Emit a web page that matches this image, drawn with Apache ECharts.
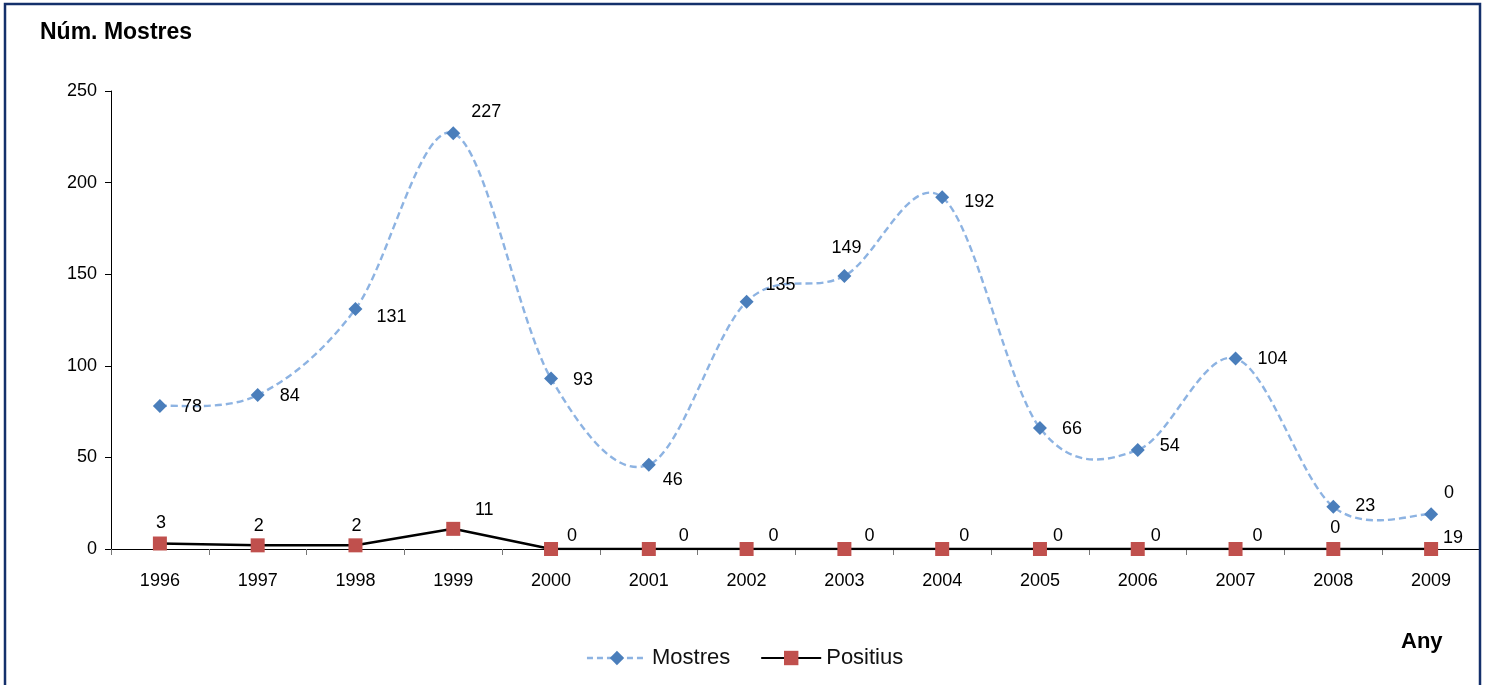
<!DOCTYPE html>
<html>
<head>
<meta charset="utf-8">
<script src="https://cdn.jsdelivr.net/npm/echarts@6/dist/echarts.min.js"></script>
<style>
html,body{margin:0;padding:0;background:#fff;}
#chart{width:1489px;height:685px;}
</style>
</head>
<body>
<div id="chart"></div>
<script>
const years = ['1996','1997','1998','1999','2000','2001','2002','2003','2004','2005','2006','2007','2008','2009'];
const mostres = [78, 84, 131, 227, 93, 46, 135, 149, 192, 66, 54, 104, 23, 19];
const positius = [3, 2, 2, 11, 0, 0, 0, 0, 0, 0, 0, 0, 0, 0];
// label texts as printed in the original figure
const mostresLabelText = ['78','84','131','227','93','46','135','149','192','66','54','104','23','0'];
const positiusLabelText = ['3','2','2','11','0','0','0','0','0','0','0','0','0','19'];
const yTicks = [0, 50, 100, 150, 200, 250];

// label offsets (style only)
const mostresOffsets = [[32,1],[32,1],[36,8],[33,-21],[32,1],[24,15],[34,-17],[2,-28],[37,5],[32,1],[32,-4],[37,1],[32,-1],[18,-21]];
const positiusOffsets = [[1,-20],[1,-19],[1,-19],[31,-19],[21,-13],[35,-13],[27,-13],[25,-13],[22,-13],[18,-13],[18,-13],[22,-13],[2,-21],[22,-11]];

const FONT = '"Liberation Sans", Arial, sans-serif';
const MOSTRES_LINE = {color:'#8db3e2', width:2.4, dash:[7,4]};

// Excel-style smoothed line (Catmull-Rom Bezier through the data points, via axis scales)
function renderSmooth(params, api) {
  if (params.dataIndex !== 0) return null;
  const pts = mostres.map((v, i) => api.coord([i, v]));
  const n = pts.length;
  let d = 'M' + pts[0][0] + ' ' + pts[0][1];
  for (let i = 0; i < n - 1; i++) {
    const p0 = pts[Math.max(i - 1, 0)], p1 = pts[i], p2 = pts[i + 1], p3 = pts[Math.min(i + 2, n - 1)];
    const c1x = p1[0] + (p2[0] - p0[0]) / 6, c1y = p1[1] + (p2[1] - p0[1]) / 6;
    const c2x = p2[0] - (p3[0] - p1[0]) / 6, c2y = p2[1] - (p3[1] - p1[1]) / 6;
    d += ' C' + c1x + ' ' + c1y + ' ' + c2x + ' ' + c2y + ' ' + p2[0] + ' ' + p2[1];
  }
  return {
    type: 'path',
    shape: {pathData: d},
    style: {fill: 'none', stroke: MOSTRES_LINE.color, lineWidth: MOSTRES_LINE.width, lineDash: MOSTRES_LINE.dash}
  };
}

const chart = echarts.init(document.getElementById('chart'), null, {renderer:'canvas'});
const option = {
  animation: false,
  backgroundColor: '#fff',
  graphic: [
    {type:'rect', shape:{x:5, y:4, width:1475, height:720}, style:{fill:'none', stroke:'#14306b', lineWidth:2.5}, z:100},
    {type:'text', left:40, top:21, style:{text:'Núm. Mostres', font:'bold 23px ' + FONT, fill:'#000'}},
    {type:'text', left:1401, top:631, style:{text:'Any', font:'bold 22px ' + FONT, fill:'#000'}}
  ],
  grid: {left:111, right:9, top:91, bottom:136, containLabel:false},
  legend: {
    data: [
      {name:'Mostres', lineStyle:{color:MOSTRES_LINE.color, width:2.4, type:[6,4], opacity:1}},
      {name:'Positius'}
    ],
    left: 'center', top: 642,
    itemWidth: 60, itemHeight: 18, itemGap: 30,
    textStyle: {fontFamily: FONT, fontSize: 22, color:'#111'}
  },
  xAxis: {
    type: 'category', data: years, boundaryGap: true,
    axisLine: {lineStyle:{color:'#000', width:1}},
    axisTick: {show:true, alignWithLabel:false, length:6, inside:false, lineStyle:{color:'#777'}},
    axisLabel: {fontFamily: FONT, fontSize: 18, color:'#000', margin: 23}
  },
  yAxis: {
    type: 'value', min: 0, max: 250, interval: 50,
    splitLine: {show:false},
    axisLine: {show:true, lineStyle:{color:'#000', width:1}},
    axisTick: {show:true, length:6, lineStyle:{color:'#000'}},
    axisLabel: {fontFamily: FONT, fontSize: 18, color:'#000', margin: 14,
      formatter: v => yTicks.includes(v) ? String(v) : ''}
  },
  series: [
    {
      name: 'MostresCurve', type: 'custom',
      data: mostres.map((v, i) => [i, v]),
      renderItem: renderSmooth,
      silent: true, z: 2
    },
    {
      name: 'Mostres', type: 'line',
      data: mostres.map((v,i) => ({value:v, label:{offset: mostresOffsets[i]}})),
      symbol: 'diamond', symbolSize: 14,
      itemStyle: {color:'#4a7ebb'},
      lineStyle: {color:MOSTRES_LINE.color, width:2, type:MOSTRES_LINE.dash, opacity:0},
      label: {show:true, position:'inside', fontFamily: FONT, fontSize: 18, color:'#000',
        formatter: p => mostresLabelText[p.dataIndex]},
      z: 3
    },
    {
      name: 'Positius', type: 'line', smooth: false,
      data: positius.map((v,i) => ({value:v, label:{offset: positiusOffsets[i]}})),
      symbol: 'rect', symbolSize: 14,
      itemStyle: {color:'#c0504d'},
      lineStyle: {color:'#000', width:2.5},
      label: {show:true, position:'inside', fontFamily: FONT, fontSize: 18, color:'#000',
        formatter: p => positiusLabelText[p.dataIndex]},
      z: 4
    }
  ]
};
chart.setOption(option);
</script>
</body>
</html>
